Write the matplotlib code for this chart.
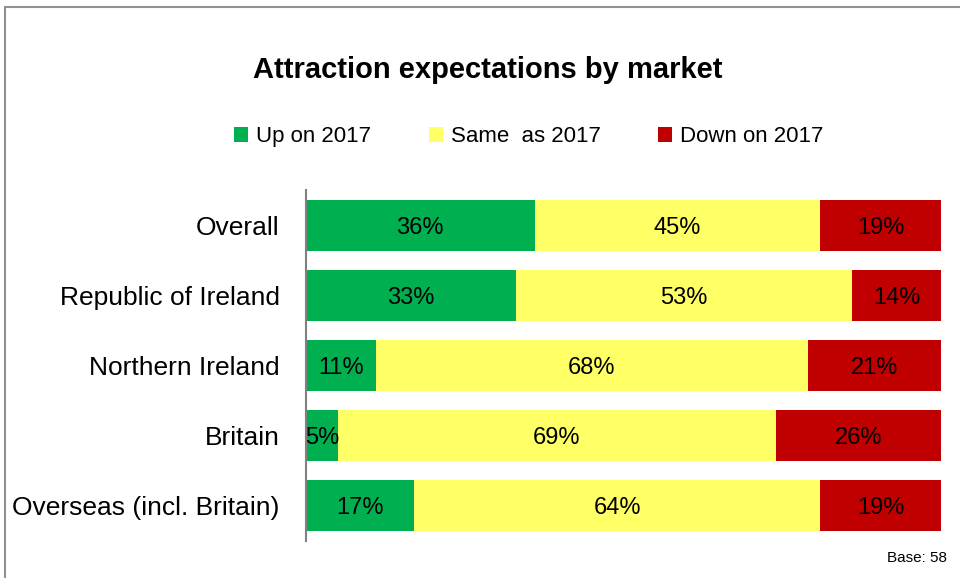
import matplotlib.pyplot as plt
import matplotlib.patches as patches
import numpy as np

plt.rcParams['font.family'] = ['Liberation Sans', 'DejaVu Sans']

markets = ["Overall", "Republic of Ireland", "Northern Ireland", "Britain", "Overseas (incl. Britain)"]
up = [36, 33, 11, 5, 17]
same = [45, 53, 68, 69, 64]
down = [19, 14, 21, 26, 19]
series_names = ["Up on 2017", "Same  as 2017", "Down on 2017"]
colors = ["#00B050", "#FFFF66", "#C00000"]

fig = plt.figure(figsize=(9.6, 5.78), dpi=100)
ax = fig.add_axes([306/960, 1-541/578, 635/960, 351/578])

y = np.arange(len(markets))
left = np.zeros(len(markets))
handles = []
for vals, name, c in zip([up, same, down], series_names, colors):
    bars = ax.barh(y, vals, left=left, height=0.73, color=c, label=name)
    handles.append(bars)
    for yi, v, l in zip(y, vals, left):
        ax.text(l + v/2, yi + 0.03, f"{v}%", ha='center', va='center', fontsize=17, color='black')
    left = left + np.array(vals)

ax.set_xlim(0, 100)
ax.set_ylim(4.507, -0.507)
ax.set_yticks(y)
ax.set_yticklabels(markets, fontsize=19)
ax.tick_params(axis='y', length=0, pad=19)
ax.set_xticks([])
for s in ['top', 'right', 'bottom']:
    ax.spines[s].set_visible(False)
ax.spines['left'].set_color('#808080')
ax.spines['left'].set_linewidth(1.5)

fig.text(0.508, 0.879, "Attraction expectations by market", ha='center', va='center',
         fontsize=21, fontweight='bold')

fig.legend(handles=handles, labels=series_names, loc='center', bbox_to_anchor=(0.551, 0.763),
           ncol=3, frameon=False, fontsize=16, handlelength=0.63, handleheight=0.63,
           handletextpad=0.36, columnspacing=2.6)

fig.text(947/960, 1-558/578, "Base: 58", ha='right', va='center', fontsize=11)

border = patches.Rectangle((5/960, -0.5), 2, 1.5 - 7/578, transform=fig.transFigure,
                           fill=False, edgecolor='#909090', linewidth=1.5, clip_on=False)
fig.patches.append(border)

fig.savefig("out.png", dpi=100)
